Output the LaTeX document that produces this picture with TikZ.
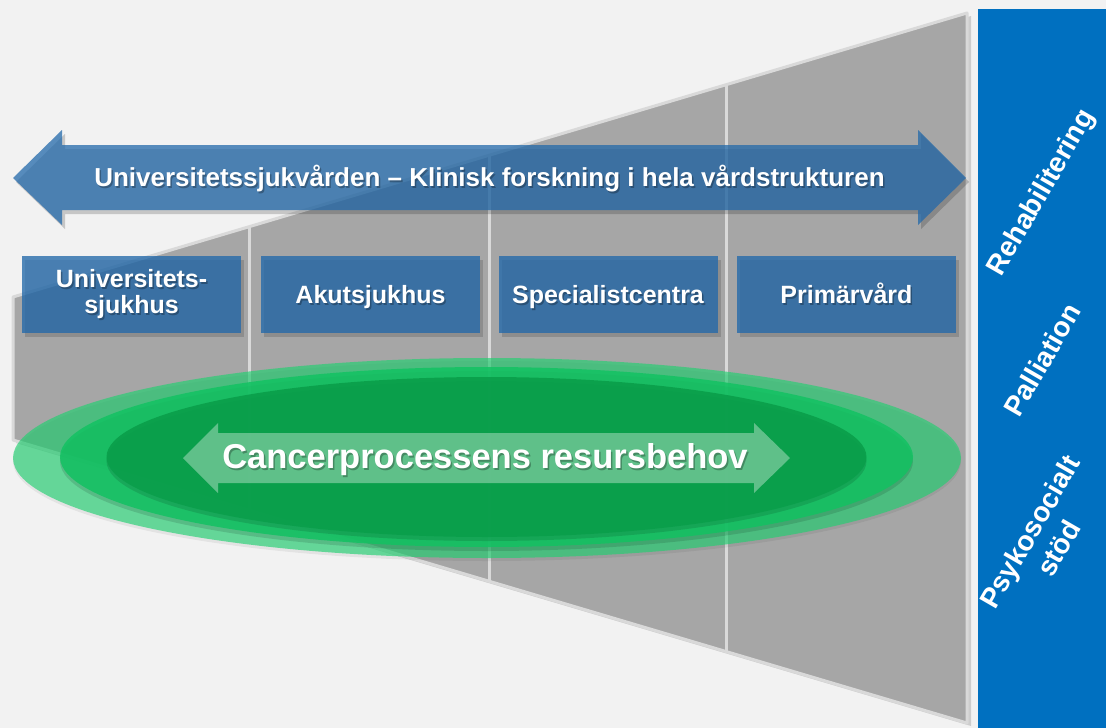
\documentclass[tikz,border=0pt]{standalone}
\usepackage{fontspec}
\setmainfont{Liberation Sans}
\usetikzlibrary{calc}

\definecolor{bg}{HTML}{F2F2F2}
\definecolor{panelgrey}{HTML}{A6A6A6}
\definecolor{panelline}{HTML}{D9D9D9}
\definecolor{bandblue}{HTML}{0070C0}
\definecolor{steel}{HTML}{2369AA}
\definecolor{ringout}{HTML}{20D070}
\definecolor{ringmid}{HTML}{12C262}
\definecolor{ringin}{HTML}{0A9F4B}

% white bold label with a soft dark copy underneath
\newcommand\shadowlabel[4]{%
  \node[lblshadow,#3] (#1-shadow) at ($(#2)+(1.5,2)$) {#4};
  \node[lbl,#3] (#1) at (#2) {#4};
}

\begin{document}
\begin{tikzpicture}[x=1pt,y=-1pt,
  lbl/.style={inner sep=0pt, align=center, text=white,
    font=\bfseries\fontsize{25}{26}\selectfont},
  lblshadow/.style={lbl, text=black, text opacity=0.28},
  topfont/.style={font=\bfseries\fontsize{26}{27}\selectfont},
  bigfont/.style={font=\bfseries\fontsize{34.5}{36}\selectfont},
  bandlbl/.style={lbl, rotate=60, font=\bfseries\fontsize{28}{33}\selectfont},
  hbox/.style={fill=steel, fill opacity=0.78, minimum width=219pt,
    minimum height=77pt, inner sep=0pt, draw=none},
  hboxshadow/.style={fill=black, fill opacity=0.15, minimum width=219pt,
    minimum height=77pt, inner sep=0pt, draw=none},
  divider/.style={draw=panelline, line width=3pt},
]
\useasboundingbox (0,0) rectangle (1106,728);
\fill[bg] (0,0) rectangle (1106,728);

% blue band on the right
\fill[bandblue] (978,9) rectangle (1106,728);

% funnel panel
\coordinate (TL) at (13,297);
\coordinate (TR) at (967,13);
\coordinate (BR) at (967,723);
\coordinate (BL) at (13,440);
\fill[black, opacity=0.15] ($(TL)+(3,3)$) -- ($(TR)+(4,3)$) -- ($(BR)+(4,3)$) -- ($(BL)+(3,3)$) -- cycle;
\filldraw[fill=panelgrey, draw=panelline, line width=3pt, line join=round]
  (TL) -- (TR) -- (BR) -- (BL) -- cycle;
\foreach \f/\n in {0.2484/a, 0.4990/b, 0.7484/c}{
  \coordinate (top-\n) at ($(TL)!\f!(TR)$);
  \coordinate (bot-\n) at ($(BL)!\f!(BR)$);
  \draw[divider] (top-\n) -- (bot-\n);
}

% top double arrow
\fill[black, opacity=0.18] (16,182) -- (65,134) -- (65,149) -- (921,149) -- (921,134)
  -- (969,182) -- (921,229) -- (921,214) -- (65,214) -- (65,229) -- cycle;
\fill[steel, opacity=0.75] (13,178) -- (62,130) -- (62,145) -- (918,145) -- (918,130)
  -- (966,178) -- (918,225) -- (918,210) -- (62,210) -- (62,225) -- cycle;
\coordinate (toptext) at (489.5,186);
\shadowlabel{toplabel}{toptext}{anchor=base, topfont}{Universitetssjukvården -- Klinisk forskning i hela vårdstrukturen}

% care level boxes
\foreach \x/\n in {131.5/b1, 370.5/b2, 608/b3, 846.5/b4}{
  \node[hboxshadow] (\n-shadow) at (\x+3,298.5) {};
  \node[hbox] (\n) at (\x,294.5) {};
}
\coordinate (t2p) at (370.5,303);
\coordinate (t3p) at (608,303);
\coordinate (t4p) at (846.5,303);
\shadowlabel{t1}{b1.center}{}{Universitets-\\sjukhus}
\shadowlabel{t2}{t2p}{anchor=base}{Akutsjukhus}
\shadowlabel{t3}{t3p}{anchor=base}{Specialistcentra}
\shadowlabel{t4}{t4p}{anchor=base}{Primärvård}

% resource ellipses
\fill[black, opacity=0.06] (487,461) ellipse [x radius=474, y radius=100];
\fill[ringout, opacity=0.65] (487,458) ellipse [x radius=474, y radius=100];
\fill[black, opacity=0.12] (486.5,461) ellipse [x radius=426.5, y radius=90];
\fill[ringmid, opacity=0.85] (486.5,457) ellipse [x radius=426.5, y radius=90];
\fill[black, opacity=0.12] (486.5,461) ellipse [x radius=380, y radius=80];
\fill[ringin, opacity=0.92] (486.5,457) ellipse [x radius=380, y radius=80];

% green double arrow
\fill[white, opacity=0.35] (183,458) -- (218,423) -- (218,433) -- (754,433) -- (754,423)
  -- (790,458) -- (754,493) -- (754,483) -- (218,483) -- (218,493) -- cycle;
\coordinate (cantext) at (485,468);
\shadowlabel{canlabel}{cantext}{anchor=base, bigfont}{Cancerprocessens resursbehov}

% rotated labels on the blue band
\node[bandlbl] (rehab) at (1042,193) {Rehabilitering};
\node[bandlbl] (pall) at (1042,360) {Palliation};
\node[bandlbl] (psyk) at (1044,540) {Psykosocialt\\stöd};
\end{tikzpicture}
\end{document}
